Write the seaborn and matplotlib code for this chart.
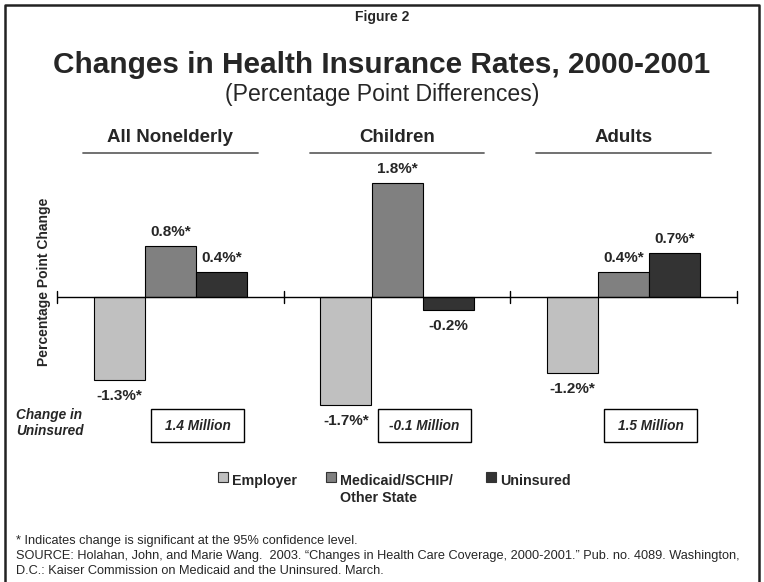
import matplotlib
matplotlib.use("Agg")
import matplotlib.pyplot as plt
import matplotlib.transforms as mtransforms
from matplotlib.patches import Rectangle
import seaborn as sns
import pandas as pd

# ---- data ----
groups = ["All Nonelderly", "Children", "Adults"]
coverage = ["Employer", "Medicaid/SCHIP/Other State", "Uninsured"]
employer = [-1.3, -1.7, -1.2]
medicaid = [0.8, 1.8, 0.4]
uninsured = [0.4, -0.2, 0.7]
employer_sig = [True, True, True]
medicaid_sig = [True, True, True]
uninsured_sig = [True, False, True]
change_uninsured = ["1.4 Million", "-0.1 Million", "1.5 Million"]
legend_labels = ["Employer", "Medicaid/SCHIP/\nOther State", "Uninsured"]
colors = ["#C0C0C0", "#808080", "#333333"]

rows = []
for series, vals, sig in zip(coverage, [employer, medicaid, uninsured],
                             [employer_sig, medicaid_sig, uninsured_sig]):
    for g, v, s in zip(groups, vals, sig):
        rows.append({"group": g, "coverage": series, "value": v, "sig": s})
df = pd.DataFrame(rows)

sns.set_theme(style="white")
plt.rcParams["font.family"] = ["Liberation Sans", "DejaVu Sans"]

W, H = 764, 582
fig = plt.figure(figsize=(W / 100, H / 100), dpi=100)
fig.patch.set_facecolor("white")

# axes: x 57..737 px, y 170..424 px
ax = fig.add_axes([57 / W, 1 - 424 / H, 680 / W, 254 / H])
sns.barplot(data=df, x="group", y="value", hue="coverage", order=groups,
            hue_order=coverage, palette=colors, width=0.675,
            edgecolor="black", linewidth=0.8, ax=ax, legend=False, zorder=2)
ax.set_xlim(-0.5, 2.5)
ax.set_ylim(-2, 2)
for s in ax.spines.values():
    s.set_visible(False)
ax.set_xticks([])
ax.set_yticks([])
ax.set_xlabel("")
ax.set_ylabel("")
ax.patch.set_alpha(0)

# zero line and group separators
ax.axhline(0, color="black", lw=1, zorder=3)
for xb in [-0.5, 0.5, 1.5, 2.5]:
    ax.plot([xb, xb], [-0.1, 0.1], color="black", lw=1, clip_on=False, zorder=3)

# value labels
for cont, series in zip(ax.containers, coverage):
    sub = df[df["coverage"] == series].set_index("group").loc[groups]
    for bar, (v, s) in zip(cont, zip(sub["value"], sub["sig"])):
        txt = f"{v:.1f}%" + ("*" if s else "")
        x = bar.get_x() + bar.get_width() / 2
        if v >= 0:
            ax.annotate(txt, (x, v), xytext=(0, 14), textcoords="offset pixels",
                        ha="center", va="center", fontsize=11, fontweight="bold")
        else:
            ax.annotate(txt, (x, v), xytext=(0, -16), textcoords="offset pixels",
                        ha="center", va="center", fontsize=11, fontweight="bold")

blend = mtransforms.blended_transform_factory(ax.transData, fig.transFigure)

# group titles + underlines
for i, g in enumerate(groups):
    ax.text(i, 1 - 138 / H, g, transform=blend, ha="center", va="center",
            fontsize=13.5, fontweight="bold")
    ax.plot([i - 0.385, i + 0.385], [1 - 153 / H] * 2, transform=blend,
            color="#666666", lw=1.3, clip_on=False)

# change in uninsured boxes
for i, t in enumerate(change_uninsured):
    cx = i + 0.12
    ax.add_patch(Rectangle((cx - 0.205, 1 - 442 / H), 0.41, 33 / H,
                           transform=blend, facecolor="white",
                           edgecolor="black", lw=1, clip_on=False))
    ax.text(cx, 1 - 426 / H, t, transform=blend, ha="center", va="center",
            fontsize=9.8, fontweight="bold", fontstyle="italic")
fig.text(16 / W, 1 - 423 / H, "Change in\nUninsured", ha="left", va="center",
         fontsize=9.8, fontweight="bold", fontstyle="italic", linespacing=1.2)

# y label
fig.text(44 / W, 1 - 282 / H, "Percentage Point Change", rotation=90,
         ha="center", va="center", fontsize=10, fontweight="bold")

# titles
fig.text(0.5, 1 - 17 / H, "Figure 2", ha="center", va="center",
         fontsize=10, fontweight="bold")
fig.text(0.5, 1 - 65 / H, "Changes in Health Insurance Rates, 2000-2001",
         ha="center", va="center", fontsize=21.4, fontweight="bold")
fig.text(0.5, 1 - 94 / H, "(Percentage Point Differences)", ha="center",
         va="center", fontsize=16.6)

# legend (manual)
leg_sq_x = [218, 326, 486]
for lx, lab, col in zip(leg_sq_x, legend_labels, colors):
    fig.patches.append(Rectangle((lx / W, 1 - 482 / H), 10 / W, 10 / H,
                                 transform=fig.transFigure, facecolor=col,
                                 edgecolor="#333333", lw=0.8))
    fig.text((lx + 14) / W, 1 - 474 / H, lab, ha="left", va="top",
             fontsize=10.3, fontweight="bold", linespacing=1.3)

# footnotes
fn = 9.2
fig.text(16 / W, 1 - 541 / H,
         "* Indicates change is significant at the 95% confidence level.",
         ha="left", va="center", fontsize=fn)
fig.text(16 / W, 1 - 556 / H,
         "SOURCE: Holahan, John, and Marie Wang.  2003. \u201cChanges in Health Care Coverage, 2000-2001.\u201d Pub. no. 4089. Washington,",
         ha="left", va="center", fontsize=fn)
fig.text(16 / W, 1 - 571 / H,
         "D.C.: Kaiser Commission on Medicaid and the Uninsured. March.",
         ha="left", va="center", fontsize=fn)

# frame
fig.lines.append(plt.Line2D([5 / W, 5 / W, 759 / W, 759 / W],
                            [0, 1 - 5 / H, 1 - 5 / H, 0],
                            transform=fig.transFigure, color="#222222", lw=1.8))

fig.savefig("out.png", dpi=100, facecolor="white")
